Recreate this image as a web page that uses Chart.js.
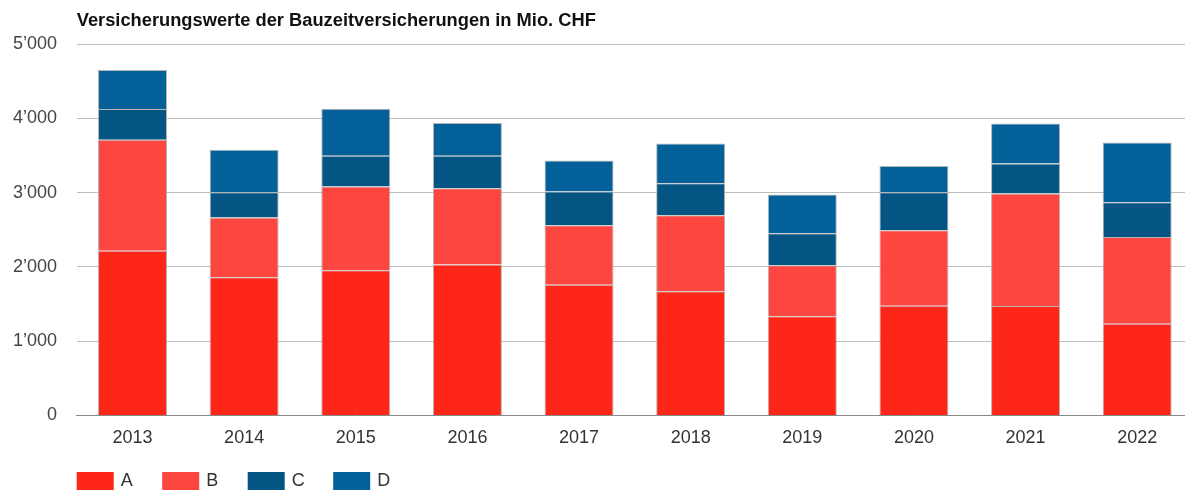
<!DOCTYPE html>
<html>
<head>
<meta charset="utf-8">
<script src="https://cdn.jsdelivr.net/npm/chart.js@4/dist/chart.umd.min.js"></script>
<style>
  html, body { margin: 0; padding: 0; background: #fff; overflow: hidden; }
  #wrap { width: 1193px; height: 490px; position: relative; }
</style>
</head>
<body>
<div id="wrap"><canvas id="chart"></canvas></div>
<script>
// ── Data ──────────────────────────────────────────────────────────────────────
const years  = ['2013', '2014', '2015', '2016', '2017', '2018', '2019', '2020', '2021', '2022'];
const valsA  = [2218, 1860, 1954, 2030, 1760, 1671, 1334, 1477, 1473, 1234];
const valsB  = [1492,  803, 1127, 1029,  801, 1024,  688, 1016, 1513, 1169];
const valsC  = [ 414,  342,  414,  436,  452,  432,  431,  512,  405,  468];
const valsD  = [ 526,  570,  633,  440,  418,  533,  520,  351,  539,  803];
const yTicks = [0, 1000, 2000, 3000, 4000, 5000];
const title  = 'Versicherungswerte der Bauzeitversicherungen in Mio. CHF';

const FONT = "'Liberation Sans', Arial, sans-serif";
const fmt  = v => String(v).replace(/\B(?=(\d{3})+(?!\d))/g, '\u2019');

const series = [
    { label: 'A', data: valsA, color: '#fd2619' },
    { label: 'B', data: valsB, color: '#fe4641' },
    { label: 'C', data: valsC, color: '#045583' },
    { label: 'D', data: valsD, color: '#046098' },
];

// title + legend drawn relative to the plot area's left edge
const decor = {
    id: 'decor',
    afterDraw(chart) {
        const { ctx, chartArea } = chart;
        const x0 = chartArea.left;
        ctx.save();
        ctx.fillStyle = '#111';
        ctx.font = `bold 18.3px ${FONT}`;
        ctx.textBaseline = 'middle';
        ctx.fillText(title, x0, 21);

        ctx.font = `18px ${FONT}`;
        let x = x0;
        const y = 481;
        chart.data.datasets.forEach(ds => {
            ctx.fillStyle = ds.backgroundColor;
            ctx.fillRect(x, y - 9, 37, 18);
            ctx.fillStyle = '#333';
            ctx.fillText(ds.label, x + 44, y);
            x += 85.5;
        });
        ctx.restore();
    },
};

new Chart(document.getElementById('chart'), {
    type: 'bar',
    data: {
        labels: years,
        datasets: series.map(s => ({
            label: s.label, data: s.data,
            backgroundColor: s.color, borderColor: '#b4b4b4', borderWidth: 1,
            barPercentage: 0.618, categoryPercentage: 1,
        })),
    },
    options: {
        responsive: true, maintainAspectRatio: false, animation: false,
        layout: { padding: { top: 44, bottom: 29, left: 0, right: 0 } },
        plugins: { legend: { display: false }, tooltip: { enabled: false }, title: { display: false } },
        scales: {
            x: {
                stacked: true,
                grid: { display: false, drawTicks: false },
                border: { display: true, color: '#888', width: 1 },
                ticks: { color: '#333', font: { family: FONT, size: 18 }, padding: 12 },
            },
            y: {
                stacked: true, min: 0, max: 5000,
                afterFit: s => { s.width = 76.7; },
                afterBuildTicks: s => { s.ticks = yTicks.map(v => ({ value: v })); },
                grid: { color: ctx => ctx.tick && ctx.tick.value === 0 ? 'rgba(0,0,0,0)' : '#bdbdbd', drawTicks: false },
                border: { display: false },
                ticks: { color: '#444', font: { family: FONT, size: 18 }, padding: 19.7, callback: v => fmt(v) },
            },
        },
    },
    plugins: [decor],
});
</script>
</body>
</html>
